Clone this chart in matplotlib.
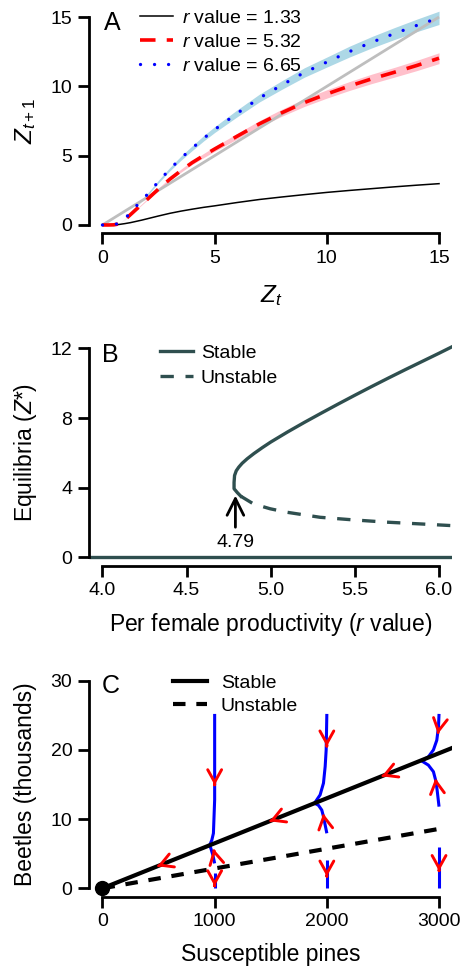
import matplotlib
matplotlib.use('Agg')
import matplotlib.pyplot as plt

plt.rcParams['font.family'] = ['Liberation Sans', 'DejaVu Sans']
plt.rcParams['mathtext.fontset'] = 'custom'
plt.rcParams['mathtext.rm'] = 'Liberation Sans'
plt.rcParams['mathtext.it'] = 'Liberation Sans:italic'
plt.rcParams['mathtext.bf'] = 'Liberation Sans:bold'

# ---------------- Panel A data ----------------
z_t = [0, 0.25, 0.5, 0.75, 1, 1.25, 1.5, 1.75, 2, 2.5, 3, 3.5, 4, 4.5, 5,
       6, 7, 8, 9, 10, 11, 12, 13, 14, 15]
z_next_r133 = [0, 0, 0.01, 0.04, 0.1, 0.17, 0.26, 0.35, 0.45, 0.65, 0.84, 1.0,
               1.14, 1.27, 1.38, 1.62, 1.84, 2.02, 2.19, 2.35, 2.49, 2.62,
               2.75, 2.87, 2.98]
z_next_r532 = [0, 0, 0.01, 0.08, 0.38, 0.75, 1.12, 1.48, 1.85, 2.6, 3.3, 3.92,
               4.5, 5.0, 5.48, 6.4, 7.3, 8.1, 8.83, 9.45, 10.02, 10.54, 11.01,
               11.5, 12.03]
z_next_r665 = [0, 0, 0.02, 0.12, 0.45, 0.9, 1.35, 1.78, 2.2, 3.14, 4.02, 4.82,
               5.54, 6.24, 6.88, 8.05, 9.16, 10.1, 11.0, 11.75, 12.5, 13.18,
               13.8, 14.39, 14.94]
band_r532 = [0, 0, 0, 0, 0.01, 0.02, 0.03, 0.04, 0.05, 0.07, 0.09, 0.11, 0.13,
             0.15, 0.17, 0.2, 0.23, 0.25, 0.28, 0.3, 0.32, 0.34, 0.35, 0.37, 0.39]
band_r665 = [0, 0, 0, 0, 0.01, 0.03, 0.04, 0.05, 0.07, 0.1, 0.12, 0.15, 0.17,
             0.19, 0.21, 0.25, 0.28, 0.31, 0.34, 0.36, 0.39, 0.41, 0.43, 0.45, 0.48]
identity = [0, 15]
labels_A = ['$r$ value = 1.33', '$r$ value = 5.32', '$r$ value = 6.65']
ticks_A = [0, 5, 10, 15]

# ---------------- Panel B data ----------------
stable_r = [4.822, 4.802, 4.782, 4.782, 4.785, 4.795, 4.81, 4.83, 4.86, 4.90,
            4.95, 5.0, 5.1, 5.2, 5.3, 5.4, 5.5, 5.6, 5.7, 5.8, 5.9, 6.0, 6.079]
stable_z = [3.51, 3.71, 3.94, 4.3, 4.7, 4.97, 5.18, 5.4, 5.66, 5.96, 6.3,
            6.62, 7.2, 7.75, 8.28, 8.8, 9.31, 9.81, 10.3, 10.78, 11.25, 11.72,
            12.1]
unstable_r = [4.822, 4.897, 4.996, 5.095, 5.293, 5.491, 5.689, 5.887, 6.079]
unstable_z = [3.51, 3.07, 2.79, 2.59, 2.30, 2.15, 2.02, 1.92, 1.82]
zero_r = [3.92, 6.08]
zero_z = [0, 0]
fold_r = 4.79
fold_arrow_z = [1.73, 3.55]
fold_label_z = 0.62
xticks_B = [4.0, 4.5, 5.0, 5.5, 6.0]
yticks_B = [0, 4, 8, 12]

# ---------------- Panel C data ----------------
stable_pines = [0, 3120]
stable_beetles = [0, 20.3]
unstable_pines = [0, 3040]
unstable_beetles = [0, 8.7]
trajectories = [
    ([1000, 1000, 989, 975, 955], [25.2, 12.8, 7.95, 6.98, 6.2]),
    ([955, 966, 984, 1000], [6.2, 5.78, 4.8, 3.6]),
    ([1000, 1000], [2.2, 0]),
    ([2000, 1994, 1985, 1970, 1940, 1890], [25.2, 20.0, 17.6, 15.2, 13.5, 12.3]),
    ([1890, 1925, 1955, 1970, 1985, 2000], [12.3, 12.0, 11.3, 10.35, 9.15, 7.95]),
    ([2000, 2000], [4.1, 0]),
    ([3000, 2995, 2980, 2950, 2905, 2846], [25.2, 23.35, 21.4, 20.0, 19.0, 18.4]),
    ([2846, 2905, 2950, 2970, 2983, 3000], [18.4, 17.8, 16.85, 15.6, 14.2, 11.8]),
    ([3000, 3000], [6.0, 0]),
]
# (tip, tail) of red direction arrows
arrows_C = [
    ((1000, 14.9), (1000, 15.0)),
    ((990, 5.7), (994, 5.4)),
    ((1000, 0.3), (1000, 0.4)),
    ((2000, 20.5), (2000, 20.6)),
    ((1968, 10.8), (1972, 10.4)),
    ((2000, 1.7), (2000, 1.8)),
    ((2990, 22.3), (2992, 22.5)),
    ((2968, 15.9), (2972, 15.4)),
    ((3000, 2.5), (3000, 2.6)),
    ((2490, 16.185), (2500, 16.25)),
    ((1490, 9.685), (1500, 9.75)),
    ((490, 3.185), (500, 3.25)),
]
origin = (0, 0)
xticks_C = [0, 1000, 2000, 3000]
yticks_C = [0, 10, 20, 30]

# ---------------- Figure ----------------
W, H = 464, 967
fig = plt.figure(figsize=(W / 100, H / 100), dpi=100)


def rect(left, right, top, bottom):
    return [left / W, 1 - bottom / H, (right - left) / W, (bottom - top) / H]


def fx(x):
    return x / W


def fy(y):
    return 1 - y / H


TICK_FS = 14
LAB_FS = 16.5


def style_axes(ax, xb, yb, xt, yt, xtl=None):
    for s in ['top', 'right']:
        ax.spines[s].set_visible(False)
    for s in ['left', 'bottom']:
        ax.spines[s].set_linewidth(2)
    ax.spines['left'].set_bounds(*yb)
    ax.spines['bottom'].set_bounds(*xb)
    ax.set_xticks(xt)
    ax.set_yticks(yt)
    if xtl is not None:
        ax.set_xticklabels(xtl)
    ax.tick_params(direction='out', length=8, width=2, labelsize=TICK_FS,
                   pad=4)


# Panel A
axA = fig.add_axes(rect(89, 452.5, 8.7, 233.3))
axA.set_xlim(-0.6, 15.6)
axA.set_ylim(-0.6, 15.6)
axA.fill_between(z_t, [v - b for v, b in zip(z_next_r665, band_r665)],
                 [v + b for v, b in zip(z_next_r665, band_r665)],
                 color='#ADD8E6', lw=0)
axA.fill_between(z_t, [v - b for v, b in zip(z_next_r532, band_r532)],
                 [v + b for v, b in zip(z_next_r532, band_r532)],
                 color='#FFC0CB', lw=0)
axA.plot(identity, identity, color='#BEBEBE', lw=2, solid_capstyle='butt')
lA1, = axA.plot(z_t, z_next_r133, color='black', lw=1.1)
lA2, = axA.plot(z_t, z_next_r532, color='#FF0000', lw=2.6,
                linestyle=(0, (4.3, 3.1)))
lA3, = axA.plot(z_t, z_next_r665, color='#0000FF', lw=2.4,
                linestyle=(0, (0.01, 4.2)), dash_capstyle='round')
style_axes(axA, (0, 15), (0, 15), ticks_A, ticks_A)
axA.legend([lA1, lA2, lA3], labels_A, loc='upper left',
           bbox_to_anchor=(fx(140), fy(9.5)),
           bbox_transform=fig.transFigure, frameon=False,
           fontsize=14, borderpad=0, borderaxespad=0,
           handlelength=1.7, handletextpad=0.45, labelspacing=0.33)
fig.text(fx(104), fy(30), 'A', fontsize=18, ha='left', va='baseline')
fig.text(fx(271), fy(302), '$Z_t$', fontsize=LAB_FS + 1, ha='center',
         va='baseline')
fig.text(fx(32), fy(121), '$Z_{t+1}$', fontsize=LAB_FS + 1, ha='center',
         va='baseline', rotation=90, rotation_mode='anchor')

# Panel B
axB = fig.add_axes(rect(89, 452.5, 340, 565.7))
axB.set_xlim(3.92, 6.08)
axB.set_ylim(-0.48, 12.48)
col = '#2F4F4F'
axB.plot(zero_r, zero_z, color=col, lw=2.4, solid_capstyle='butt')
lB1, = axB.plot(stable_r, stable_z, color=col, lw=2.4)
lB2, = axB.plot(unstable_r, unstable_z, color=col, lw=2.4,
                linestyle=(0, (4, 3.5)))
axB.annotate('', xy=(fold_r, fold_arrow_z[1]), xytext=(fold_r, fold_arrow_z[0]),
             arrowprops=dict(arrowstyle='->,head_length=1.2,head_width=0.6',
                             lw=2, color='black', mutation_scale=10,
                             shrinkA=0, shrinkB=0))
axB.text(fold_r, fold_label_z, '4.79', fontsize=TICK_FS, ha='center',
         va='baseline')
style_axes(axB, (4.0, 6.0), (0, 12), xticks_B, yticks_B,
           ['4.0', '4.5', '5.0', '5.5', '6.0'])
axB.legend([lB1, lB2], ['Stable', 'Unstable'], loc='upper left',
           bbox_to_anchor=(fx(160), fy(344.5)), bbox_transform=fig.transFigure,
           frameon=False, fontsize=14, borderpad=0, borderaxespad=0,
           handlelength=1.7, handletextpad=0.4, labelspacing=0.36)
fig.text(fx(102), fy(361.7), 'B', fontsize=18, ha='left', va='baseline')
fig.text(fx(271), fy(630.5), 'Per female productivity ($r$ value)',
         fontsize=LAB_FS, ha='center', va='baseline')
fig.text(fx(32), fy(452), 'Equilibria ($Z$*)', fontsize=LAB_FS,
         ha='center', va='baseline', rotation=90, rotation_mode='anchor')

# Panel C
axC = fig.add_axes(rect(89, 452.5, 672.4, 896.6))
axC.set_xlim(-120, 3120)
axC.set_ylim(-1.2, 31.2)
for px, py in trajectories:
    axC.plot(px, py, color='#0000FF', lw=2.2, solid_capstyle='butt')
lC1, = axC.plot(stable_pines, stable_beetles, color='black', lw=3)
lC2, = axC.plot(unstable_pines, unstable_beetles, color='black', lw=3,
                linestyle=(0, (3, 2.6)))
for tip, tail in arrows_C:
    axC.annotate('', xy=tip, xytext=tail,
                 arrowprops=dict(arrowstyle='->,head_length=0.9,head_width=0.5',
                                 lw=2.1, color='#FF0000', mutation_scale=10,
                                 shrinkA=0, shrinkB=0))
axC.plot([origin[0]], [origin[1]], 'o', color='black', ms=10, clip_on=False,
         zorder=5)
style_axes(axC, (0, 3000), (0, 30), xticks_C, yticks_C)
axC.legend([lC1, lC2], ['Stable', 'Unstable'], loc='upper left',
           bbox_to_anchor=(fx(173), fy(674)), bbox_transform=fig.transFigure,
           frameon=False, fontsize=14, borderpad=0, borderaxespad=0,
           handlelength=1.75, handletextpad=0.7, labelspacing=0.29)
fig.text(fx(102), fy(693), 'C', fontsize=18, ha='left', va='baseline')
fig.text(fx(271), fy(961), 'Susceptible pines', fontsize=LAB_FS,
         ha='center', va='baseline')
fig.text(fx(32), fy(784), 'Beetles (thousands)', fontsize=LAB_FS,
         ha='center', va='baseline', rotation=90, rotation_mode='anchor')

fig.savefig('out.png', dpi=100)
